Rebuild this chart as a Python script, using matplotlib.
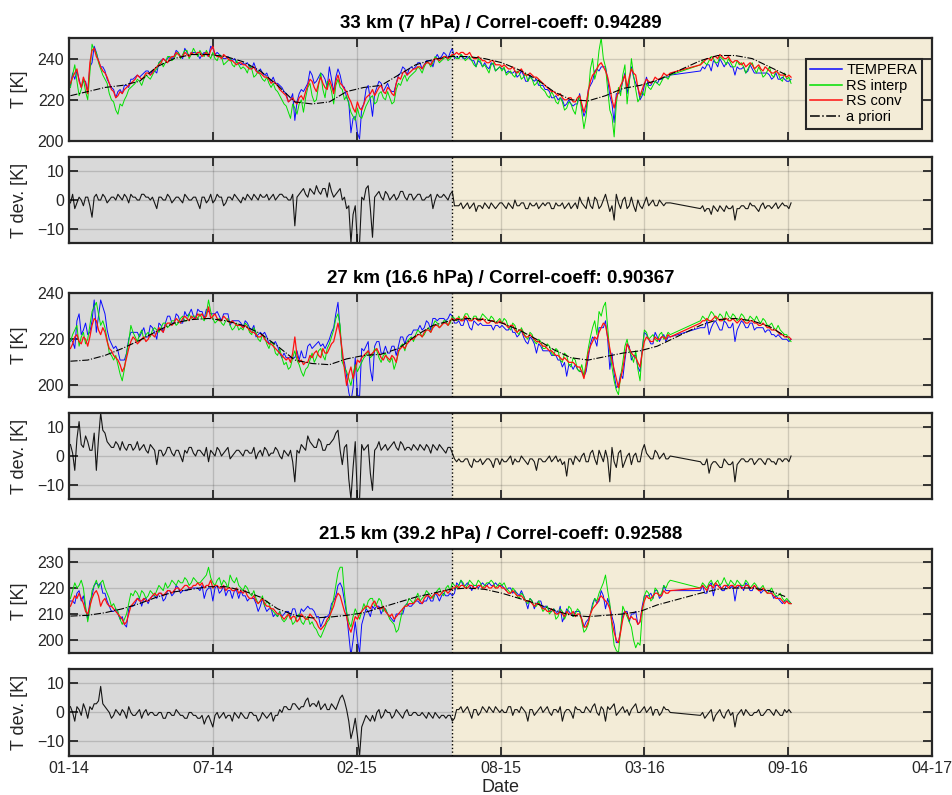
import numpy as np
import matplotlib
matplotlib.use("Agg")
import matplotlib.pyplot as plt
import matplotlib.dates as mdates

plt.rcParams["font.family"] = ["Liberation Sans", "DejaVu Sans"]

# ---------------- DATA ---------------- #

# sample days since 2014-01-01 (no data between 2016-04-20 and 2016-05-27)
days = np.r_[np.arange(2, 837, 3), np.arange(878, 1005, 3)]
apriori_days = np.r_[np.arange(2, 837, 24), np.arange(878, 1005, 24)]

# day where the second period starts
split_day = 533

# 33 km (7 hPa)
tempera_33 = [
    227, 233, 230, 234, 230, 226, 229, 229, 224, 236, 238, 246, 243, 239, 236, 236, 234, 230, 228, 226,
    225, 221, 224, 225, 223, 227, 227, 226, 230, 230, 231, 232, 231, 232, 233, 234, 234, 232, 234, 234,
    233, 238, 239, 240, 239, 240, 241, 240, 241, 244, 243, 241, 240, 245, 243, 241, 243, 243, 243, 242,
    240, 242, 243, 242, 241, 246, 245, 242, 243, 242, 241, 240, 240, 241, 240, 239, 240, 238, 238, 237,
    238, 237, 238, 236, 235, 238, 235, 233, 235, 233, 232, 233, 230, 229, 231, 228, 228, 227, 226, 224,
    223, 219, 220, 223, 210, 219, 223, 225, 224, 226, 228, 234, 232, 228, 229, 231, 233, 232, 230, 226,
    236, 230, 224, 231, 235, 232, 227, 226, 221, 219, 204, 211, 212, 204, 201, 216, 218, 225, 227, 220,
    212, 223, 226, 229, 228, 224, 226, 228, 225, 224, 224, 228, 232, 233, 236, 235, 232, 235, 236, 235,
    236, 238, 238, 235, 237, 239, 239, 239, 236, 240, 242, 240, 241, 243, 242, 240, 243, 245, 240, 241,
    240, 242, 240, 240, 241, 240, 239, 239, 236, 239, 238, 236, 238, 236, 235, 238, 237, 234, 235, 236,
    235, 235, 233, 234, 233, 233, 234, 231, 232, 234, 232, 229, 229, 232, 230, 229, 230, 227, 227, 227,
    225, 225, 224, 221, 221, 222, 220, 221, 220, 217, 218, 220, 218, 217, 218, 218, 223, 217, 212, 215,
    225, 227, 229, 234, 235, 234, 236, 236, 236, 230, 222, 218, 209, 223, 223, 224, 229, 233, 223, 229,
    236, 231, 228, 226, 220, 222, 227, 231, 227, 227, 229, 229, 228, 230, 230, 231, 231, 231, 232,
    234, 236, 235, 237, 237, 234, 239, 238, 236, 240, 238, 236, 238, 238, 236, 236, 232, 236, 235, 235,
    236, 233, 234, 237, 235, 233, 233, 233, 233, 233, 233, 233, 232, 230, 231, 233, 230, 230, 231, 230,
    229, 229, 230]
rs_interp_33 = [
    226, 232, 237, 229, 222, 225, 230, 224, 220, 233, 247, 244, 243, 238, 235, 232, 230, 228, 223, 220,
    219, 215, 213, 218, 217, 220, 222, 225, 226, 227, 228, 230, 229, 227, 230, 232, 231, 230, 232, 234,
    235, 238, 239, 236, 238, 241, 241, 239, 240, 242, 243, 240, 242, 244, 244, 240, 242, 245, 243, 241,
    244, 242, 241, 244, 242, 240, 243, 240, 239, 242, 241, 237, 238, 239, 240, 237, 236, 239, 237, 235,
    236, 235, 233, 237, 235, 231, 232, 234, 232, 230, 229, 231, 228, 226, 228, 225, 224, 222, 220, 218,
    217, 214, 211, 218, 216, 213, 218, 220, 214, 221, 226, 228, 222, 219, 220, 227, 233, 225, 221, 229,
    228, 224, 218, 227, 230, 226, 225, 220, 222, 218, 214, 212, 210, 216, 212, 211, 214, 217, 219, 221,
    222, 218, 219, 223, 224, 221, 220, 224, 221, 218, 219, 225, 228, 227, 230, 232, 229, 231, 232, 233,
    234, 236, 235, 233, 236, 238, 238, 236, 238, 241, 240, 238, 239, 240, 241, 239, 240, 242, 241, 240,
    240, 242, 241, 239, 240, 241, 239, 237, 236, 240, 239, 236, 237, 235, 233, 237, 238, 234, 235, 236,
    234, 236, 232, 233, 234, 232, 231, 234, 233, 230, 231, 233, 229, 231, 230, 227, 228, 230, 226, 225,
    224, 222, 221, 224, 222, 219, 218, 221, 219, 215, 216, 219, 218, 215, 213, 219, 222, 214, 206, 212,
    222, 235, 240, 230, 234, 244, 250, 240, 236, 225, 215, 212, 202, 218, 226, 222, 232, 237, 218, 228,
    240, 232, 225, 219, 221, 224, 222, 228, 226, 225, 227, 229, 228, 227, 229, 231, 231, 230, 232,
    237, 239, 238, 237, 239, 241, 240, 238, 238, 241, 240, 239, 237, 240, 238, 236, 236, 239, 237, 238,
    236, 233, 235, 237, 238, 235, 233, 236, 234, 231, 232, 234, 236, 232, 231, 234, 233, 230, 229, 233,
    230, 231, 228]
rs_conv_33 = [
    228, 231, 233, 235, 229, 226, 231, 228, 223, 238, 244, 245, 241, 239, 236, 234, 233, 231, 228, 225,
    224, 221, 222, 224, 223, 225, 226, 227, 228, 229, 230, 232, 231, 230, 231, 233, 233, 232, 233, 235,
    236, 237, 238, 240, 239, 238, 240, 241, 241, 243, 242, 241, 241, 243, 242, 241, 243, 242, 242, 243,
    243, 241, 242, 243, 241, 244, 246, 242, 241, 241, 240, 242, 241, 240, 239, 239, 238, 237, 238, 238,
    237, 237, 236, 235, 235, 236, 234, 233, 233, 232, 231, 231, 230, 228, 229, 228, 227, 225, 224, 223,
    222, 219, 220, 221, 219, 218, 221, 222, 220, 224, 227, 230, 229, 226, 224, 228, 231, 228, 226, 225,
    230, 227, 223, 229, 232, 228, 227, 225, 224, 221, 219, 216, 214, 219, 216, 215, 218, 221, 222, 223,
    225, 222, 224, 226, 227, 224, 223, 226, 225, 223, 222, 228, 231, 230, 233, 234, 232, 233, 234, 235,
    235, 236, 236, 235, 237, 238, 238, 237, 239, 240, 240, 239, 240, 241, 241, 240, 241, 242, 242, 243,
    242, 243, 243, 242, 242, 243, 241, 240, 240, 241, 240, 239, 239, 238, 238, 239, 239, 237, 237, 237,
    236, 237, 236, 235, 235, 236, 234, 233, 234, 235, 233, 232, 232, 233, 232, 231, 231, 230, 229, 228,
    227, 226, 225, 224, 224, 223, 222, 223, 221, 220, 220, 221, 221, 219, 219, 221, 222, 218, 214, 218,
    224, 229, 232, 233, 235, 237, 238, 236, 234, 231, 226, 220, 216, 221, 224, 227, 229, 232, 226, 231,
    235, 233, 232, 226, 222, 225, 228, 230, 229, 228, 229, 231, 230, 230, 231, 233, 232, 232, 233,
    237, 238, 239, 240, 240, 239, 241, 241, 240, 242, 241, 240, 240, 241, 239, 238, 239, 239, 238, 237,
    238, 236, 237, 238, 237, 235, 236, 237, 235, 234, 236, 235, 234, 233, 233, 234, 233, 232, 232, 232,
    231, 232, 231]
apriori_33 = [
    222, 224, 226, 227, 229, 236, 240, 242, 242, 241,
    238.5, 234, 227, 219, 218, 219, 224, 226, 227, 232,
    237, 239.5, 241, 241, 240, 238, 234.5, 230, 224, 220,
    219.5, 222, 225.5, 227, 229.5,
    239, 241.5, 241.5, 240, 236, 232]

# 27 km (16.6 hPa)
tempera_27 = [
    220, 219, 216, 228, 231, 222, 224, 227, 222, 223, 228, 237, 223, 230, 237, 234, 231, 224, 220, 218,
    216, 217, 215, 211, 211, 211, 214, 220, 223, 223, 223, 223, 221, 223, 225, 221, 221, 226, 225, 223,
    220, 227, 226, 223, 227, 230, 230, 227, 227, 231, 230, 227, 227, 232, 230, 231, 233, 230, 229, 233,
    232, 232, 229, 233, 232, 231, 231, 231, 232, 230, 228, 231, 231, 231, 226, 228, 228, 228, 228, 227,
    225, 228, 227, 225, 224, 226, 221, 222, 223, 222, 223, 221, 218, 219, 218, 219, 217, 214, 212, 214,
    212, 212, 212, 212, 212, 215, 211, 215, 212, 212, 217, 218, 216, 217, 218, 219, 217, 218, 216, 218,
    220, 223, 225, 231, 236, 224, 212, 210, 204, 197, 193, 199, 212, 196, 195, 216, 215, 217, 219, 207,
    202, 217, 219, 219, 214, 214, 217, 214, 214, 217, 217, 213, 217, 221, 221, 218, 221, 222, 222, 224,
    224, 224, 226, 224, 225, 228, 227, 224, 229, 229, 228, 229, 229, 229, 228, 229, 231, 230, 227, 227,
    228, 226, 226, 229, 228, 225, 224, 228, 227, 226, 227, 226, 226, 226, 226, 226, 224, 226, 226, 225,
    226, 225, 224, 224, 226, 223, 223, 221, 222, 224, 221, 219, 218, 221, 220, 218, 214, 218, 217, 215,
    215, 215, 215, 213, 213, 213, 211, 211, 208, 210, 204, 209, 209, 207, 209, 207, 206, 206, 204, 206,
    212, 218, 221, 220, 217, 225, 225, 225, 228, 220, 207, 214, 205, 199, 200, 205, 203, 211, 218, 217,
    211, 213, 213, 208, 206, 216, 223, 222, 220, 218, 218, 223, 221, 219, 221, 222, 219, 221, 221,
    225, 225, 225, 228, 222, 225, 227, 228, 226, 224, 224, 228, 227, 225, 225, 227, 219, 224, 226, 228,
    227, 225, 225, 227, 227, 224, 225, 225, 225, 225, 223, 224, 224, 222, 222, 221, 222, 221, 220, 220,
    220, 219, 220]
rs_interp_27 = [
    219, 222, 224, 226, 217, 221, 223, 218, 220, 226, 232, 234, 236, 231, 226, 228, 225, 220, 214, 213,
    211, 213, 209, 205, 202, 207, 214, 219, 226, 223, 221, 219, 222, 224, 220, 222, 223, 221, 224, 225,
    224, 223, 225, 227, 227, 225, 226, 228, 228, 226, 227, 229, 230, 228, 228, 231, 229, 230, 230, 229,
    231, 229, 228, 231, 237, 232, 229, 227, 228, 229, 227, 226, 228, 229, 226, 224, 225, 227, 224, 225,
    224, 227, 226, 223, 222, 225, 223, 220, 219, 222, 221, 218, 216, 219, 218, 214, 213, 216, 212, 209,
    210, 207, 208, 212, 215, 211, 209, 206, 204, 207, 208, 211, 214, 210, 212, 215, 216, 213, 211, 216,
    218, 221, 224, 229, 231, 226, 210, 208, 206, 203, 200, 205, 209, 206, 208, 210, 212, 213, 215, 212,
    213, 216, 215, 212, 210, 213, 214, 211, 210, 212, 207, 210, 214, 217, 218, 215, 219, 220, 221, 219,
    222, 224, 223, 221, 222, 224, 225, 223, 226, 228, 227, 225, 226, 228, 228, 226, 227, 230, 229, 228,
    230, 228, 229, 231, 231, 229, 228, 230, 230, 228, 229, 231, 230, 229, 228, 230, 229, 227, 228, 229,
    227, 229, 228, 225, 224, 227, 226, 223, 222, 225, 223, 221, 220, 223, 222, 219, 218, 220, 219, 216,
    216, 218, 217, 214, 213, 216, 215, 211, 210, 214, 213, 209, 208, 212, 211, 207, 206, 209, 204, 210,
    216, 221, 225, 228, 222, 232, 230, 234, 236, 225, 214, 208, 202, 198, 196, 204, 210, 217, 220, 215,
    213, 210, 215, 207, 202, 215, 224, 223, 220, 221, 222, 220, 219, 222, 223, 220, 221, 223, 222,
    228, 230, 229, 228, 230, 232, 231, 229, 229, 231, 230, 228, 232, 230, 229, 231, 230, 228, 229, 231,
    230, 228, 228, 230, 229, 228, 230, 228, 227, 229, 228, 226, 226, 227, 225, 224, 226, 224, 223, 222,
    222, 220, 219]
rs_conv_27 = [
    216, 218, 221, 222, 219, 218, 221, 220, 217, 221, 226, 229, 228, 224, 222, 225, 223, 219, 216, 215,
    213, 212, 211, 209, 206, 208, 212, 216, 219, 221, 220, 218, 219, 220, 221, 219, 220, 222, 222, 221,
    223, 225, 224, 223, 226, 227, 227, 226, 227, 229, 228, 227, 229, 230, 229, 228, 230, 229, 229, 231,
    230, 231, 229, 230, 234, 229, 230, 231, 229, 228, 228, 230, 229, 228, 227, 228, 227, 226, 226, 226,
    225, 226, 225, 224, 223, 223, 222, 221, 221, 222, 220, 219, 218, 218, 217, 216, 215, 214, 213, 212,
    211, 212, 210, 214, 221, 213, 210, 211, 209, 210, 210, 213, 212, 214, 215, 213, 212, 216, 214, 214,
    216, 218, 219, 223, 227, 222, 215, 207, 200, 205, 208, 203, 207, 211, 210, 212, 213, 214, 215, 213,
    214, 215, 216, 214, 212, 211, 213, 212, 211, 213, 212, 210, 215, 216, 217, 216, 218, 219, 220, 220,
    221, 222, 222, 221, 223, 224, 224, 223, 225, 226, 226, 225, 226, 227, 227, 226, 228, 229, 228, 229,
    229, 228, 228, 230, 229, 228, 228, 229, 229, 228, 228, 229, 228, 227, 227, 228, 228, 227, 227, 228,
    227, 227, 226, 225, 226, 226, 224, 223, 224, 224, 222, 221, 221, 222, 221, 220, 219, 219, 218, 217,
    217, 216, 215, 215, 214, 213, 213, 212, 211, 212, 211, 210, 210, 210, 209, 208, 208, 206, 203, 208,
    214, 217, 219, 221, 220, 223, 225, 227, 226, 221, 216, 211, 207, 203, 199, 203, 207, 213, 218, 216,
    214, 213, 212, 210, 208, 214, 219, 221, 220, 219, 219, 221, 220, 220, 221, 221, 220, 222, 221,
    227, 228, 228, 229, 228, 228, 229, 230, 229, 228, 228, 229, 229, 228, 228, 229, 228, 227, 228, 229,
    228, 227, 227, 228, 228, 227, 227, 226, 226, 227, 226, 225, 225, 224, 224, 224, 223, 222, 222, 221,
    221, 221, 220]
apriori_27 = [
    210.5, 211, 213, 216, 219.5, 223.5, 227, 228.5, 229, 228,
    226, 222.5, 217, 211, 209.5, 209, 211.5, 213, 213.5, 216,
    221.5, 226, 228, 229, 228.5, 227, 224, 220, 215.5, 212,
    211, 212.5, 214, 215, 217,
    226, 228.5, 229, 228, 225.5, 221]

# 21.5 km (39.2 hPa)
tempera_21 = [
    215, 215, 214, 218, 219, 215, 217, 212, 208, 215, 217, 221, 222, 221, 222, 218, 218, 215, 213, 211,
    211, 212, 210, 208, 209, 206, 205, 212, 213, 213, 214, 216, 216, 213, 216, 216, 214, 216, 217, 217,
    216, 218, 218, 215, 216, 219, 219, 217, 218, 221, 220, 218, 219, 219, 219, 220, 220, 220, 220, 220,
    219, 221, 216, 219, 220, 220, 215, 220, 221, 218, 219, 221, 217, 219, 219, 216, 219, 219, 216, 219,
    217, 217, 215, 216, 216, 216, 214, 211, 213, 216, 213, 211, 212, 212, 209, 210, 209, 211, 209, 210,
    211, 211, 209, 212, 212, 209, 209, 212, 211, 212, 213, 212, 212, 211, 209, 209, 205, 207, 209, 209,
    210, 214, 215, 217, 221, 222, 220, 215, 210, 202, 194, 200, 207, 200, 195, 206, 209, 212, 211, 209,
    213, 212, 213, 213, 210, 212, 212, 210, 209, 208, 207, 210, 210, 210, 210, 213, 214, 213, 213, 214,
    215, 215, 214, 214, 215, 215, 217, 215, 215, 218, 217, 215, 217, 218, 217, 217, 218, 217, 218, 222,
    221, 223, 221, 221, 222, 221, 219, 221, 221, 220, 221, 222, 221, 221, 222, 221, 221, 222, 221, 221,
    221, 220, 219, 220, 220, 218, 219, 218, 217, 219, 217, 215, 212, 216, 215, 212, 214, 215, 215, 212,
    213, 213, 211, 211, 212, 211, 210, 213, 207, 209, 212, 211, 210, 209, 211, 211, 211, 208, 205, 207,
    208, 210, 214, 216, 214, 215, 219, 217, 212, 216, 213, 209, 206, 199, 199, 204, 210, 211, 211, 207,
    210, 210, 211, 206, 207, 213, 217, 217, 217, 218, 216, 219, 219, 216, 217, 221, 219, 219, 219,
    219, 221, 218, 218, 221, 222, 217, 221, 221, 221, 219, 219, 221, 221, 220, 221, 215, 220, 221, 221,
    219, 222, 221, 219, 219, 221, 220, 220, 218, 219, 219, 219, 219, 218, 216, 217, 216, 215, 214, 215,
    215, 215, 214]
rs_interp_21 = [
    216, 219, 222, 220, 221, 223, 220, 213, 207, 212, 219, 221, 223, 220, 222, 223, 220, 218, 216, 213,
    214, 212, 211, 208, 206, 208, 210, 214, 218, 217, 219, 218, 216, 219, 218, 216, 217, 219, 218, 217,
    219, 221, 220, 219, 222, 220, 221, 223, 222, 221, 223, 222, 222, 224, 223, 221, 222, 224, 223, 222,
    222, 223, 224, 225, 228, 224, 222, 221, 223, 224, 221, 223, 222, 220, 225, 223, 222, 224, 221, 220,
    219, 221, 220, 218, 217, 219, 216, 214, 215, 217, 213, 215, 214, 212, 211, 210, 209, 211, 208, 207,
    208, 210, 209, 206, 207, 209, 210, 207, 206, 208, 209, 206, 207, 205, 204, 202, 201, 203, 205, 207,
    208, 212, 216, 221, 226, 228, 228, 218, 211, 207, 205, 209, 212, 210, 208, 211, 214, 212, 215, 216,
    216, 213, 214, 216, 215, 211, 212, 210, 208, 207, 206, 203, 204, 208, 212, 213, 214, 216, 215, 214,
    216, 218, 215, 216, 217, 219, 218, 217, 216, 218, 219, 220, 218, 217, 220, 221, 219, 222, 221, 220,
    221, 223, 222, 220, 221, 223, 222, 221, 221, 223, 222, 220, 221, 222, 222, 223, 222, 220, 221, 222,
    221, 222, 220, 219, 218, 220, 219, 217, 216, 218, 217, 215, 214, 216, 215, 213, 213, 215, 213, 211,
    212, 213, 210, 211, 212, 208, 209, 212, 211, 208, 210, 213, 212, 209, 210, 212, 211, 207, 203, 204,
    206, 210, 213, 216, 215, 218, 220, 222, 225, 219, 214, 205, 198, 196, 195, 204, 213, 211, 209, 207,
    205, 200, 197, 199, 198, 210, 217, 219, 218, 215, 216, 220, 219, 217, 218, 221, 220, 222, 223,
    220, 222, 221, 220, 222, 223, 221, 222, 223, 221, 222, 224, 222, 221, 223, 222, 221, 223, 222, 221,
    221, 223, 222, 220, 221, 222, 221, 219, 220, 221, 219, 218, 219, 220, 218, 217, 217, 218, 216, 215,
    216, 215, 214]
rs_conv_21 = [
    213, 215, 217, 216, 218, 216, 214, 211, 210, 213, 216, 218, 219, 217, 213, 215, 216, 214, 213, 213,
    212, 211, 210, 209, 208, 206, 207, 210, 213, 214, 215, 216, 215, 215, 216, 215, 215, 216, 217, 218,
    217, 218, 218, 217, 218, 219, 219, 218, 219, 220, 220, 219, 220, 221, 221, 220, 220, 221, 221, 222,
    221, 222, 220, 221, 221, 223, 220, 221, 221, 220, 220, 221, 219, 220, 220, 219, 219, 220, 218, 219,
    218, 219, 217, 216, 216, 217, 215, 214, 215, 216, 214, 213, 213, 212, 212, 211, 210, 210, 209, 208,
    209, 210, 208, 209, 209, 207, 208, 210, 209, 208, 208, 210, 209, 208, 207, 205, 204, 205, 206, 208,
    209, 211, 213, 216, 218, 217, 214, 211, 209, 205, 203, 206, 209, 208, 210, 211, 212, 213, 213, 212,
    214, 215, 213, 212, 212, 213, 211, 210, 209, 210, 208, 209, 210, 211, 212, 213, 213, 214, 214, 214,
    215, 216, 215, 214, 216, 217, 217, 216, 217, 218, 218, 217, 218, 219, 219, 218, 219, 220, 220, 221,
    220, 221, 221, 220, 220, 221, 221, 220, 220, 221, 221, 220, 220, 221, 220, 220, 221, 220, 220, 221,
    220, 220, 219, 218, 218, 219, 218, 217, 217, 217, 216, 215, 215, 215, 214, 213, 214, 214, 213, 212,
    212, 211, 211, 212, 211, 210, 210, 211, 210, 209, 211, 210, 210, 211, 209, 210, 210, 208, 205, 205,
    207, 210, 212, 213, 214, 216, 217, 216, 215, 214, 212, 207, 203, 200, 199, 203, 208, 211, 210, 208,
    209, 208, 208, 206, 207, 212, 215, 217, 216, 216, 217, 218, 218, 217, 217, 219, 218, 218, 219,
    220, 221, 220, 219, 221, 221, 220, 222, 221, 220, 220, 221, 221, 220, 221, 221, 220, 221, 221, 220,
    220, 221, 221, 220, 220, 221, 220, 219, 219, 220, 219, 218, 218, 218, 217, 216, 216, 216, 215, 214,
    215, 214, 214]
apriori_21 = [
    209.2, 209.5, 210.5, 212, 214, 216.5, 218.5, 219.5, 220.5, 220.5,
    219, 216.5, 212, 209.5, 208.5, 208.8, 209.5, 210.5, 212.5, 214.5,
    216.5, 218, 219.5, 220, 219.5, 218, 216, 214, 211.5, 209.5,
    209, 209.5, 210, 211, 213.5,
    218, 219.5, 220, 220, 219, 216.5]

titles = ["33 km (7 hPa)", "27 km (16.6 hPa)", "21.5 km (39.2 hPa)"]
correl = ["0.94289", "0.90367", "0.92588"]

# ---------------- SETUP ---------------- #

t0 = np.datetime64("2014-01-01")
dates = t0 + days.astype("timedelta64[D]")
apriori_dates = t0 + apriori_days.astype("timedelta64[D]")
split = t0 + np.timedelta64(split_day, "D")
x_start = t0
x_end = t0 + np.timedelta64(1200, "D")
xticks = t0 + np.arange(0, 1201, 200).astype("timedelta64[D]")

GRAY = "#d9d9d9"
BEIGE = "#f3ecd7"
DARK = "#262626"

levels = [
    (tempera_33, rs_interp_33, rs_conv_33, apriori_33, (200, 250), [200, 220, 240]),
    (tempera_27, rs_interp_27, rs_conv_27, apriori_27, (195, 240), [200, 220, 240]),
    (tempera_21, rs_interp_21, rs_conv_21, apriori_21, (195, 235), [200, 210, 220, 230]),
]

left, width = 0.0725, 0.9065
main_rects = [(0.8226, 0.1296), (0.5006, 0.1308), (0.1786, 0.1308)]
dev_rects = [(0.6943, 0.1082), (0.3723, 0.1082), (0.0491, 0.1094)]


def style_axes(ax):
    ax.axvspan(x_start, split, color=GRAY, lw=0, zorder=0)
    ax.axvspan(split, x_end, color=BEIGE, lw=0, zorder=0)
    ax.axvline(split, color="k", ls=":", lw=1.0, zorder=3)
    ax.set_xlim(x_start, x_end)
    ax.set_xticks(xticks)
    ax.xaxis.set_major_formatter(mdates.DateFormatter("%m-%y"))
    ax.set_axisbelow(True)
    ax.grid(True, color="k", alpha=0.15, lw=1.0)
    ax.tick_params(direction="in", length=6.5, width=1.3, top=True, right=True,
                   colors=DARK, labelsize=11.5)
    for s in ax.spines.values():
        s.set_linewidth(1.6)
        s.set_color(DARK)


fig = plt.figure(figsize=(9.52, 7.95), dpi=100)

for i, (tem, interp, conv, apr, ylim, yticks) in enumerate(levels):
    tem = np.array(tem, dtype=float)
    conv = np.array(conv, dtype=float)

    # temperature panel
    ax = fig.add_axes([left, main_rects[i][0], width, main_rects[i][1]])
    style_axes(ax)
    l1, = ax.plot(dates, tem, color="#0a0aff", lw=0.7, label="TEMPERA")
    l2, = ax.plot(dates, interp, color="#00e000", lw=0.7, label="RS interp")
    l3, = ax.plot(dates, conv, color="#ff1010", lw=0.9, label="RS conv")
    l4, = ax.plot(apriori_dates, apr, color="k", ls="-.", lw=0.8, label="a priori")
    ax.set_ylim(*ylim)
    ax.set_yticks(yticks)
    ax.tick_params(labelbottom=False)
    ax.set_ylabel("T [K]", fontsize=13, color=DARK)
    ax.yaxis.set_label_coords(-0.048, 0.5)
    ax.set_title(titles[i] + " / Correl-coeff: " + correl[i],
                 fontsize=13.5, fontweight="bold", pad=7)

    if i == 0:
        leg = ax.legend(handles=[l1, l2, l3, l4], loc="upper right",
                        bbox_to_anchor=(0.988, 0.80), borderaxespad=0,
                        fontsize=10.5, fancybox=False, facecolor=BEIGE,
                        edgecolor=DARK, framealpha=1, handlelength=2.2,
                        handletextpad=0.3, labelspacing=0.12, borderpad=0.3)
        leg.get_frame().set_linewidth(1.5)
        for h in leg.get_lines():
            h.set_linewidth(1.1)

    # deviation panel
    axd = fig.add_axes([left, dev_rects[i][0], width, dev_rects[i][1]])
    style_axes(axd)
    axd.plot(dates, tem - conv, color="k", lw=0.8, alpha=0.9)
    axd.set_ylim(-15, 15)
    axd.set_yticks([-10, 0, 10])
    axd.set_ylabel("T dev. [K]", fontsize=13, color=DARK)
    axd.yaxis.set_label_coords(-0.048, 0.5)
    if i < 2:
        axd.tick_params(labelbottom=False)
    else:
        axd.set_xlabel("Date", fontsize=13, color=DARK, labelpad=2)

fig.savefig("out.png", dpi=100)
